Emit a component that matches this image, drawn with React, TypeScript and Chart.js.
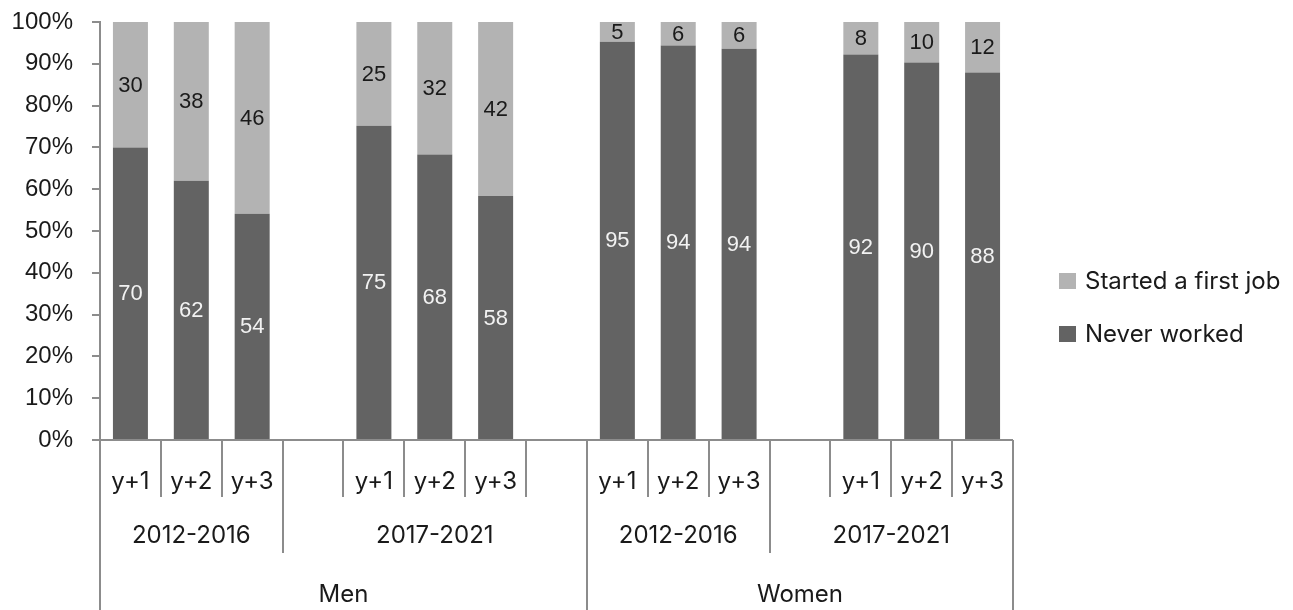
import React, { useEffect, useRef } from 'react';
import { Chart, registerables } from 'chart.js';

Chart.register(...registerables);

// ---- data ----
const SLOT_LABELS = ['y+1', 'y+2', 'y+3', '', 'y+1', 'y+2', 'y+3', '', 'y+1', 'y+2', 'y+3', '', 'y+1', 'y+2', 'y+3'];
const SLOT_PERIODS = [
  '2012-2016', '2012-2016', '2012-2016',
  '2017-2021', '2017-2021', '2017-2021', '2017-2021', '2017-2021',
  '2012-2016', '2012-2016', '2012-2016',
  '2017-2021', '2017-2021', '2017-2021', '2017-2021',
];
const SLOT_SEXES = [
  'Men', 'Men', 'Men', 'Men', 'Men', 'Men', 'Men', 'Men',
  'Women', 'Women', 'Women', 'Women', 'Women', 'Women', 'Women',
];
const NEVER_WORKED = [70.0, 62.0, 54.1, null, 75.2, 68.3, 58.4, null, 95.3, 94.4, 93.6, null, 92.2, 90.3, 87.9];
const STARTED_FIRST_JOB = [30.0, 38.0, 45.9, null, 24.8, 31.7, 41.6, null, 4.7, 5.6, 6.4, null, 7.8, 9.7, 12.1];
const Y_TICKS_STEP = 10;

const DARK = '#636363';
const LIGHT = '#b3b3b3';
const AXIS = '#8c8c8c';
const TEXT = '#1a1a1a';
const CAT_FONT = '24px Inter';

const dataLabelPlugin = {
  id: 'dataLabels',
  afterDatasetsDraw(chart: any) {
    const { ctx } = chart;
    ctx.save();
    ctx.font = '22px "Liberation Sans"';
    ctx.textAlign = 'center';
    ctx.textBaseline = 'middle';
    chart.data.datasets.forEach((ds: any, di: number) => {
      const meta = chart.getDatasetMeta(di);
      meta.data.forEach((el: any, i: number) => {
        const v = ds.data[i];
        if (v === null || v === undefined) return;
        const p = el.getProps(['x', 'y', 'base'], true);
        ctx.fillStyle = ds.labelColor;
        ctx.fillText(String(Math.round(v)), p.x, (p.y + p.base) / 2 + 1);
      });
    });
    ctx.restore();
  },
};

const multiAxisPlugin = {
  id: 'multiAxis',
  afterDraw(chart: any) {
    const { ctx, chartArea } = chart;
    const xs = chart.scales.x;
    const n = SLOT_LABELS.length;
    const w = xs.getPixelForValue(1) - xs.getPixelForValue(0);
    const edge = (i: number) => xs.getPixelForValue(0) - w / 2 + i * w;
    const b = chartArea.bottom;
    const H = chart.height;
    ctx.save();
    ctx.strokeStyle = AXIS;
    ctx.lineWidth = 2;
    ctx.beginPath();
    ctx.moveTo(chartArea.left - 8, b);
    ctx.lineTo(edge(n), b);
    ctx.stroke();
    for (let i = 0; i <= n; i++) {
      let end = b + 57;
      if (i === 0 || i === n || SLOT_SEXES[i] !== SLOT_SEXES[i - 1]) end = H;
      else if (SLOT_PERIODS[i] !== SLOT_PERIODS[i - 1]) end = b + 113;
      const x = Math.round(edge(i));
      ctx.beginPath();
      ctx.moveTo(x, b);
      ctx.lineTo(x, end);
      ctx.stroke();
    }
    ctx.fillStyle = TEXT;
    ctx.font = CAT_FONT;
    ctx.textAlign = 'center';
    ctx.textBaseline = 'alphabetic';
    SLOT_LABELS.forEach((l, i) => {
      if (l) ctx.fillText(l, xs.getPixelForValue(i), b + 49);
    });
    const runs = (keyOf: (i: number) => string, labelOf: (i: number) => string, y: number) => {
      let start = 0;
      for (let i = 1; i <= n; i++) {
        if (i === n || keyOf(i) !== keyOf(start)) {
          ctx.fillText(labelOf(start), (edge(start) + edge(i)) / 2, y);
          start = i;
        }
      }
    };
    runs((i) => SLOT_SEXES[i] + SLOT_PERIODS[i], (i) => SLOT_PERIODS[i], b + 103);
    runs((i) => SLOT_SEXES[i], (i) => SLOT_SEXES[i], b + 162);
    ctx.restore();
  },
};

const legendPlugin = {
  id: 'customLegend',
  afterDraw(chart: any) {
    const { ctx, chartArea } = chart;
    const items = [...chart.data.datasets].reverse();
    const cy = chart.height / 2;
    const ys = [cy - 24, cy + 29];
    ctx.save();
    ctx.font = CAT_FONT;
    ctx.textBaseline = 'middle';
    ctx.textAlign = 'left';
    items.forEach((ds: any, k: number) => {
      const y = ys[k];
      ctx.fillStyle = ds.backgroundColor;
      ctx.fillRect(chartArea.right + 46, y - 8, 17, 16);
      ctx.fillStyle = TEXT;
      ctx.fillText(ds.label, chartArea.right + 72, y + 1);
    });
    ctx.restore();
  },
};

export default function App() {
  const ref = useRef<HTMLCanvasElement | null>(null);
  useEffect(() => {
    if (!ref.current) return;
    const chart = new Chart(ref.current, {
      type: 'bar',
      data: {
        labels: SLOT_LABELS,
        datasets: [
          {
            label: 'Never worked',
            data: NEVER_WORKED,
            backgroundColor: DARK,
            labelColor: '#f2f2f2',
            categoryPercentage: 0.575,
            barPercentage: 1,
          } as any,
          {
            label: 'Started a first job',
            data: STARTED_FIRST_JOB,
            backgroundColor: LIGHT,
            labelColor: TEXT,
            categoryPercentage: 0.575,
            barPercentage: 1,
          } as any,
        ],
      },
      options: {
        animation: false,
        responsive: false,
        layout: { padding: { top: 22, right: 280, bottom: 170, left: 0 } },
        plugins: { legend: { display: false }, tooltip: { enabled: false } },
        scales: {
          x: { stacked: true, display: false },
          y: {
            stacked: true,
            min: 0,
            max: 100,
            ticks: {
              stepSize: Y_TICKS_STEP,
              callback: (v: any) => `${v}%`,
              font: { family: 'Liberation Sans', size: 24 },
              color: TEXT,
              padding: 19,
            },
            grid: { drawOnChartArea: false, drawTicks: true, tickLength: 8, color: AXIS, lineWidth: 2 },
            border: { color: AXIS, width: 2 },
            afterFit: (s: any) => {
              s.width = 100;
              s.paddingTop = 0;
              s.paddingBottom = 0;
            },
          },
        },
      },
      plugins: [dataLabelPlugin, multiAxisPlugin, legendPlugin],
    });
    return () => chart.destroy();
  }, []);
  return (
    <div style={{ position: 'absolute', left: 0, top: 0, width: 1293, height: 610, background: '#fff' }}>
      <canvas ref={ref} width={1293} height={610} />
    </div>
  );
}
